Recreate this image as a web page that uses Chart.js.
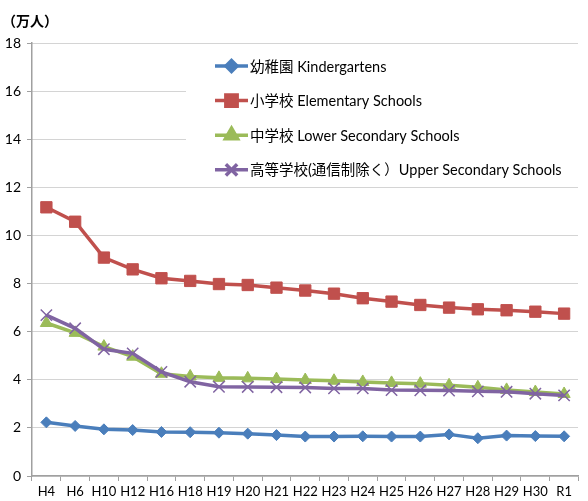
<!DOCTYPE html>
<html>
<head>
<meta charset="utf-8">
<script src="https://cdn.jsdelivr.net/npm/chart.js@4/dist/chart.umd.min.js"></script>
<style>
  html, body { margin: 0; padding: 0; background: #fff; }
  #wrap { position: relative; width: 588px; height: 501px; }
</style>
</head>
<body>
<div id="wrap"><canvas id="chart" width="588" height="501"></canvas></div>
<script>
const labels = ['H4', 'H6', 'H10', 'H12', 'H16', 'H18', 'H19', 'H20', 'H21', 'H22', 'H23', 'H24', 'H25', 'H26', 'H27', 'H28', 'H29', 'H30', 'R1'];

const kindergartens = [2.23, 2.08, 1.94, 1.91, 1.83, 1.82, 1.80, 1.76, 1.70, 1.64, 1.64, 1.65, 1.64, 1.64, 1.73, 1.57, 1.68, 1.66, 1.65];
const elementary = [11.17, 10.57, 9.08, 8.59, 8.22, 8.11, 7.98, 7.94, 7.83, 7.71, 7.58, 7.39, 7.25, 7.11, 7.00, 6.93, 6.89, 6.83, 6.75];
const lowerSecondary = [6.36, 5.95, 5.38, 4.96, 4.25, 4.14, 4.08, 4.06, 4.03, 3.99, 3.96, 3.91, 3.87, 3.84, 3.77, 3.69, 3.58, 3.49, 3.41];
const upperSecondary = [6.69, 6.14, 5.27, 5.10, 4.33, 3.92, 3.71, 3.70, 3.69, 3.68, 3.64, 3.64, 3.57, 3.56, 3.55, 3.52, 3.50, 3.42, 3.35];

const seriesNames = [
    '幼稚園 Kindergartens',
    '小学校 Elementary Schools',
    '中学校 Lower Secondary Schools',
    '高等学校(通信制除く）Upper Secondary Schools'
];

const FONT = 'Lato, "Noto Sans CJK JP", sans-serif';
const AXIS = '#a0a0a0';

// legend drawn inside the plot area on a white box, like the original
const boxLegend = {
    id: 'boxLegend',
    beforeDatasetsDraw(chart) {
        const ctx = chart.ctx;
        const area = chart.chartArea;
        ctx.save();
        ctx.fillStyle = '#fff';
        ctx.fillRect(186, area.top + 2, area.right - 186, 141);
        ctx.font = '14.5px ' + FONT;
        ctx.textBaseline = 'middle';
        chart.data.datasets.forEach((ds, i) => {
            const y = 66 + i * 34.6;
            ctx.strokeStyle = ds.borderColor;
            ctx.lineWidth = 3.5;
            ctx.beginPath();
            ctx.moveTo(215, y);
            ctx.lineTo(248, y);
            ctx.stroke();
            ctx.fillStyle = ds.pointBackgroundColor;
            ctx.strokeStyle = ds.pointBorderColor;
            Chart.helpers.drawPoint(ctx, {
                pointStyle: ds.pointStyle,
                radius: ds.pointRadius,
                borderWidth: ds.pointBorderWidth || 1,
                rotation: 0
            }, 231.5, y);
            ctx.fillStyle = '#000';
            ctx.fillText(seriesNames[i], 250, y + 1);
        });
        ctx.restore();
    }
};

// unit label above the y axis
const unitLabel = {
    id: 'unitLabel',
    afterDraw(chart) {
        const ctx = chart.ctx;
        ctx.save();
        ctx.font = 'bold 14px ' + FONT;
        ctx.fillStyle = '#000';
        ctx.textBaseline = 'middle';
        ctx.fillText('（万人）', 2, 21);
        ctx.restore();
    }
};

function line(data, color, style, radius, order, extra) {
    return Object.assign({
        data: data,
        borderColor: color,
        backgroundColor: color,
        borderWidth: 3.5,
        pointStyle: style,
        pointRadius: radius,
        pointHoverRadius: radius,
        pointBackgroundColor: color,
        pointBorderColor: color,
        pointBorderWidth: 1,
        tension: 0,
        order: order
    }, extra || {});
}

new Chart(document.getElementById('chart').getContext('2d'), {
    type: 'line',
    data: {
        labels: labels,
        datasets: [
            line(kindergartens, '#4a7ebb', 'rectRot', 5.5, 3),
            line(elementary, '#c0504d', 'rect', 8, 2),
            line(lowerSecondary, '#9bbb59', 'triangle', 7, 1),
            line(upperSecondary, '#8064a2', 'crossRot', 8, 0, { pointBorderWidth: 1.5 })
        ]
    },
    options: {
        responsive: false,
        animation: false,
        layout: { padding: { top: 43, right: 0, left: 0, bottom: 0 } },
        plugins: {
            legend: { display: false },
            tooltip: { enabled: false }
        },
        scales: {
            x: {
                offset: true,
                grid: {
                    offset: true,
                    drawOnChartArea: false,
                    drawTicks: true,
                    tickLength: 5,
                    color: AXIS
                },
                border: { color: AXIS, width: 1.5 },
                ticks: {
                    color: '#000',
                    font: { family: FONT, size: 13 },
                    maxRotation: 0,
                    autoSkip: false,
                    padding: 3
                },
                afterFit(scale) { scale.height = 25; }
            },
            y: {
                min: 0,
                max: 18,
                ticks: {
                    stepSize: 2,
                    color: '#000',
                    font: { family: FONT, size: 14 },
                    padding: 6
                },
                grid: {
                    color: '#a8a8a8',
                    tickColor: AXIS,
                    tickLength: 5,
                    tickBorderDash: [],
                    lineWidth: 1
                },
                border: { color: AXIS, width: 1.5, dash: [1, 1] },
                afterFit(scale) { scale.width = 32; }
            }
        }
    },
    plugins: [boxLegend, unitLabel]
});
</script>
</body>
</html>
